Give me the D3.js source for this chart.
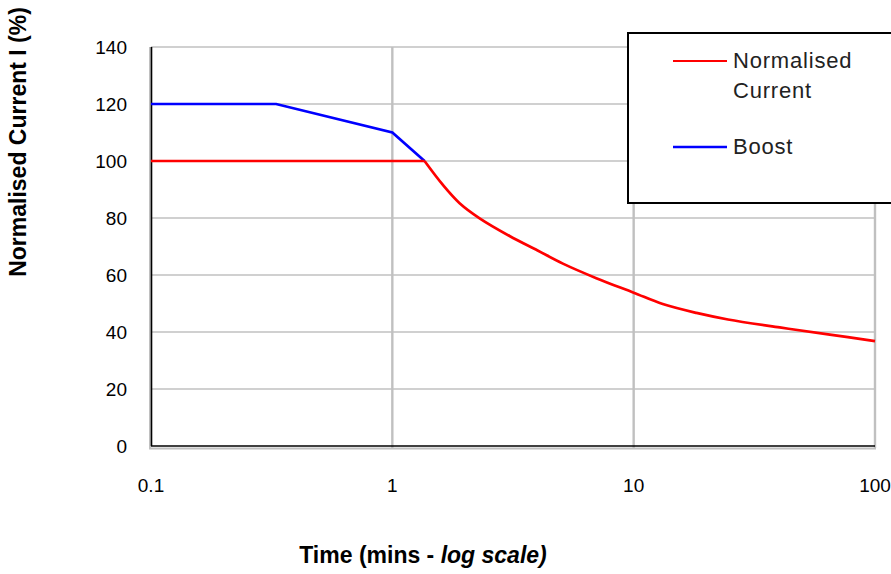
<!DOCTYPE html>
<html>
<head>
<meta charset="utf-8">
<script src="https://cdn.jsdelivr.net/npm/d3@7"></script>
<style>
  body { margin: 0; background: #fff; }
  svg text { font-family: "Liberation Sans Narrow", "Arial Narrow", "Liberation Sans", sans-serif; }
</style>
</head>
<body>
<div id="chart-area"></div>
<script>
// data
var currentTimes = [0.1, 1.36, 1.62, 1.9, 2.3, 3.06, 4.0, 5.09, 7.0, 10, 13.2, 18.2, 24.6, 40.3, 65, 100];
var currentValues = [100, 100, 91.6, 85.2, 79.9, 73.7, 68.6, 64.0, 58.9, 53.8, 49.8, 46.7, 44.4, 41.6, 39.1, 36.8];
var boostTimes = [0.1, 0.33, 1, 1.36];
var boostValues = [120, 120, 110, 100];
var xTicks = [0.1, 1, 10, 100];
var xTickLabels = ["0.1", "1", "10", "100"];
var yTicks = [0, 20, 40, 60, 80, 100, 120, 140];
var legendLabels = [["Normalised", "Current"], ["Boost"]];
var seriesColors = ["#ff0000", "#0000ff"];

var margin = { left: 151, right: 16, top: 47, bottom: 128 };
var width = 891 - margin.left - margin.right,
    height = 574 - margin.top - margin.bottom;

var svg = d3.select("#chart-area")
    .append("svg")
    .attr("width", 891)
    .attr("height", 574);

var g = svg.append("g")
    .attr("transform", "translate(" + margin.left + "," + margin.top + ")");

// scales
var x = d3.scaleLog().domain([0.1, 100]).range([0, width]);
var y = d3.scaleLinear().domain([0, 140]).range([height, 0]);

// grid
g.selectAll(".hgrid")
    .data(yTicks.filter(function (d) { return d > 0; }))
    .enter().append("line")
    .attr("x1", 0).attr("x2", width)
    .attr("y1", function (d) { return y(d); })
    .attr("y2", function (d) { return y(d); })
    .attr("stroke", "#c0c0c0")
    .attr("stroke-width", 1.6);

g.selectAll(".vgrid")
    .data(xTicks.slice(1))
    .enter().append("line")
    .attr("x1", function (d) { return x(d); })
    .attr("x2", function (d) { return x(d); })
    .attr("y1", 0).attr("y2", height + 2)
    .attr("stroke", "#c0c0c0")
    .attr("stroke-width", 2.4);

// grey shadow of the frame
g.append("line")
    .attr("x1", -1).attr("x2", -1).attr("y1", 0).attr("y2", height + 2.5)
    .attr("stroke", "#c0c0c0").attr("stroke-width", 2);
g.append("line")
    .attr("x1", -2).attr("x2", width + 1).attr("y1", height + 2.5).attr("y2", height + 2.5)
    .attr("stroke", "#c0c0c0").attr("stroke-width", 2);

// axis lines
g.append("line")
    .attr("x1", 0.5).attr("x2", 0.5).attr("y1", 0).attr("y2", height)
    .attr("stroke", "#000").attr("stroke-width", 1.6);
g.append("line")
    .attr("x1", 0).attr("x2", width).attr("y1", height).attr("y2", height)
    .attr("stroke", "#000").attr("stroke-width", 1.6);

// Y tick labels
g.selectAll(".ylab")
    .data(yTicks)
    .enter().append("text")
    .attr("x", -24)
    .attr("y", function (d) { return y(d); })
    .attr("dy", "0.36em")
    .attr("text-anchor", "end")
    .attr("font-size", "19px")
    .attr("fill", "#000")
    .text(function (d) { return d; });

// X tick labels
g.selectAll(".xlab")
    .data(xTicks)
    .enter().append("text")
    .attr("x", function (d) { return x(d); })
    .attr("y", height + 46)
    .attr("text-anchor", "middle")
    .attr("font-size", "19px")
    .attr("fill", "#000")
    .text(function (d, i) { return xTickLabels[i]; });

// lines
var linear = d3.line()
    .x(function (d) { return x(d[0]); })
    .y(function (d) { return y(d[1]); });
var smooth = d3.line()
    .x(function (d) { return x(d[0]); })
    .y(function (d) { return y(d[1]); })
    .curve(d3.curveCatmullRom.alpha(0.5));

var boostData = d3.zip(boostTimes, boostValues);
var currentData = d3.zip(currentTimes, currentValues);

g.append("path")
    .datum(boostData)
    .attr("d", linear)
    .attr("fill", "none")
    .attr("stroke", seriesColors[1])
    .attr("stroke-width", 2.7);

// flat part then the falling curve
g.append("path")
    .datum(currentData.slice(0, 2))
    .attr("d", linear)
    .attr("fill", "none")
    .attr("stroke", seriesColors[0])
    .attr("stroke-width", 2.7);
g.append("path")
    .datum(currentData.slice(1))
    .attr("d", smooth)
    .attr("fill", "none")
    .attr("stroke", seriesColors[0])
    .attr("stroke-width", 2.7);

// LEGEND
var legend = svg.append("g");
legend.append("rect")
    .attr("x", 628).attr("y", 33)
    .attr("width", 280).attr("height", 170)
    .attr("fill", "#fff")
    .attr("stroke", "#000")
    .attr("stroke-width", 2);

var legendY = [61, 147];
legendLabels.forEach(function (lines, i) {
    legend.append("line")
        .attr("x1", 673).attr("x2", 727)
        .attr("y1", legendY[i]).attr("y2", legendY[i])
        .attr("stroke", seriesColors[i])
        .attr("stroke-width", i === 0 ? 2 : 2.7);
    lines.forEach(function (t, j) {
        legend.append("text")
            .attr("x", 733)
            .attr("y", legendY[i] + 7 + j * 30)
            .attr("font-size", "22px")
            .attr("letter-spacing", "0.8px")
            .attr("fill", "#222")
            .text(t);
    });
});

// X LABEL
var xLabel = svg.append("text")
    .attr("x", 423)
    .attr("y", 563)
    .attr("text-anchor", "middle")
    .attr("font-size", "23px")
    .attr("font-weight", "bold");
xLabel.append("tspan").text("Time (mins - ");
xLabel.append("tspan").attr("font-style", "italic").text("log scale)");

// Y LABEL
svg.append("text")
    .attr("transform", "translate(26,142) rotate(-90)")
    .attr("text-anchor", "middle")
    .attr("font-size", "23px")
    .attr("font-weight", "bold")
    .text("Normalised Current I (%)");
</script>
</body>
</html>
